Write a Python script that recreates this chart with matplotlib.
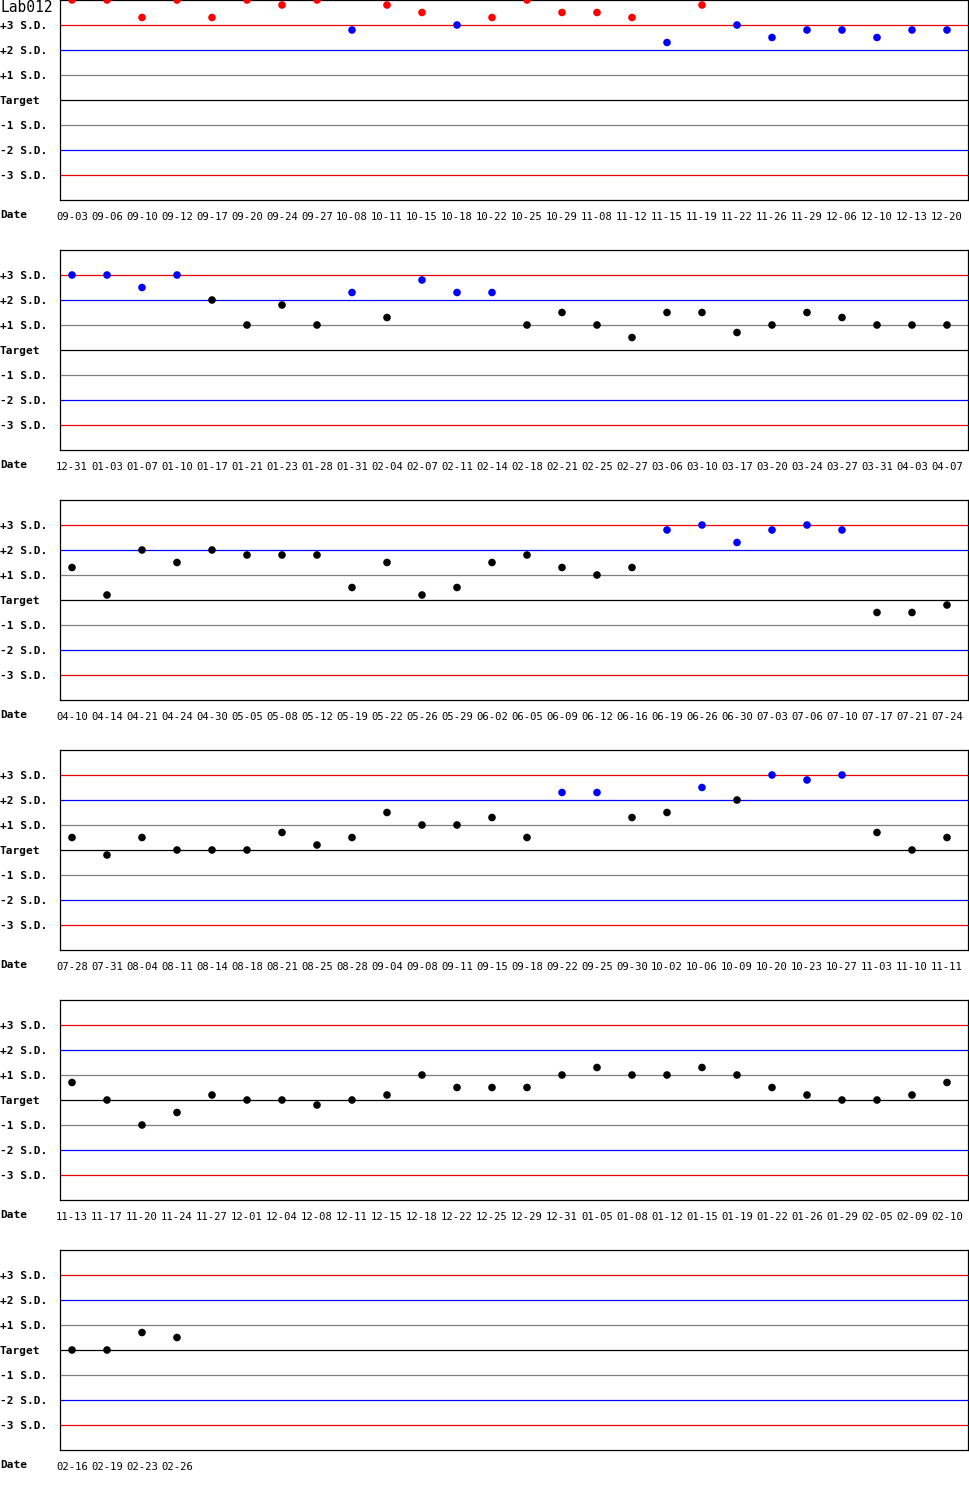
import matplotlib
matplotlib.use('Agg')
import matplotlib.pyplot as plt

# QC chart Lab012, values in S.D. units from target
dates_1 = ['09-03', '09-06', '09-10', '09-12', '09-17', '09-20', '09-24', '09-27', '10-08', '10-11',
           '10-15', '10-18', '10-22', '10-25', '10-29', '11-08', '11-12', '11-15', '11-19', '11-22',
           '11-26', '11-29', '12-06', '12-10', '12-13', '12-20']
sd_1 = [4.0, 4.0, 3.3, 4.0, 3.3, 4.0, 3.8, 4.0, 2.8, 3.8,
        3.5, 3.0, 3.3, 4.0, 3.5, 3.5, 3.3, 2.3, 3.8, 3.0,
        2.5, 2.8, 2.8, 2.5, 2.8, 2.8]

dates_2 = ['12-31', '01-03', '01-07', '01-10', '01-17', '01-21', '01-23', '01-28', '01-31', '02-04',
           '02-07', '02-11', '02-14', '02-18', '02-21', '02-25', '02-27', '03-06', '03-10', '03-17',
           '03-20', '03-24', '03-27', '03-31', '04-03', '04-07']
sd_2 = [3.0, 3.0, 2.5, 3.0, 2.0, 1.0, 1.8, 1.0, 2.3, 1.3,
        2.8, 2.3, 2.3, 1.0, 1.5, 1.0, 0.5, 1.5, 1.5, 0.7,
        1.0, 1.5, 1.3, 1.0, 1.0, 1.0]

dates_3 = ['04-10', '04-14', '04-21', '04-24', '04-30', '05-05', '05-08', '05-12', '05-19', '05-22',
           '05-26', '05-29', '06-02', '06-05', '06-09', '06-12', '06-16', '06-19', '06-26', '06-30',
           '07-03', '07-06', '07-10', '07-17', '07-21', '07-24']
sd_3 = [1.3, 0.2, 2.0, 1.5, 2.0, 1.8, 1.8, 1.8, 0.5, 1.5,
        0.2, 0.5, 1.5, 1.8, 1.3, 1.0, 1.3, 2.8, 3.0, 2.3,
        2.8, 3.0, 2.8, -0.5, -0.5, -0.2]

dates_4 = ['07-28', '07-31', '08-04', '08-11', '08-14', '08-18', '08-21', '08-25', '08-28', '09-04',
           '09-08', '09-11', '09-15', '09-18', '09-22', '09-25', '09-30', '10-02', '10-06', '10-09',
           '10-20', '10-23', '10-27', '11-03', '11-10', '11-11']
sd_4 = [0.5, -0.2, 0.5, 0.0, 0.0, 0.0, 0.7, 0.2, 0.5, 1.5,
        1.0, 1.0, 1.3, 0.5, 2.3, 2.3, 1.3, 1.5, 2.5, 2.0,
        3.0, 2.8, 3.0, 0.7, 0.0, 0.5]

dates_5 = ['11-13', '11-17', '11-20', '11-24', '11-27', '12-01', '12-04', '12-08', '12-11', '12-15',
           '12-18', '12-22', '12-25', '12-29', '12-31', '01-05', '01-08', '01-12', '01-15', '01-19',
           '01-22', '01-26', '01-29', '02-05', '02-09', '02-10']
sd_5 = [0.7, 0.0, -1.0, -0.5, 0.2, 0.0, 0.0, -0.2, 0.0, 0.2,
        1.0, 0.5, 0.5, 0.5, 1.0, 1.3, 1.0, 1.0, 1.3, 1.0,
        0.5, 0.2, 0.0, 0.0, 0.2, 0.7]

dates_6 = ['02-16', '02-19', '02-23', '02-26']
sd_6 = [0.0, 0.0, 0.7, 0.5]

rows = [(dates_1, sd_1), (dates_2, sd_2), (dates_3, sd_3),
        (dates_4, sd_4), (dates_5, sd_5), (dates_6, sd_6)]

sd_levels = [3, 2, 1, 0, -1, -2, -3]
sd_labels = ['+3 S.D.', '+2 S.D.', '+1 S.D.', 'Target', '-1 S.D.', '-2 S.D.', '-3 S.D.']
line_colors = {3: '#ee0000', 2: '#0000ff', 1: '#808080', 0: '#000000'}

W, H = 970, 1500
fig = plt.figure(figsize=(W / 100, H / 100), dpi=100)
mono = 'DejaVu Sans Mono'


def dot_color(v):
    if abs(v) > 3:
        return '#ff0000'
    if abs(v) > 2:
        return '#0000ff'
    return '#000000'


for r, (dates, vals) in enumerate(rows):
    top = r * 250
    ax = fig.add_axes([60 / W, (H - top - 200) / H, 908 / W, 200 / H])
    ax.set_xlim(-12 / 35, 896 / 35)
    ax.set_ylim(-4, 4)

    for lev in sd_levels:
        ax.axhline(lev, color=line_colors[abs(lev)], lw=0.9, zorder=1)

    xs = list(range(len(dates)))
    ax.scatter(xs, vals, s=30, c=[dot_color(v) for v in vals],
               edgecolors='none', zorder=3)

    ax.set_yticks(sd_levels)
    ax.set_yticklabels(sd_labels, fontfamily=mono, fontweight='bold', fontsize=8, ha='left')
    ax.tick_params(axis='y', length=0, pad=60 * 0.72)

    ax.set_xticks(xs)
    ax.set_xticklabels(dates, fontfamily=mono, fontsize=7.6)
    ax.tick_params(axis='x', length=0, pad=9)

    for sp in ax.spines.values():
        sp.set_color('black')
        sp.set_linewidth(0.9)

    fig.text(0, 1 - (top + 215) / H, 'Date', fontfamily=mono, fontweight='bold',
             fontsize=8, ha='left', va='center')

fig.text(0, 1 - 8 / H, 'Lab012', fontfamily=mono, fontsize=10.5, ha='left', va='center')

fig.savefig('out.png', dpi=100, facecolor='white')
